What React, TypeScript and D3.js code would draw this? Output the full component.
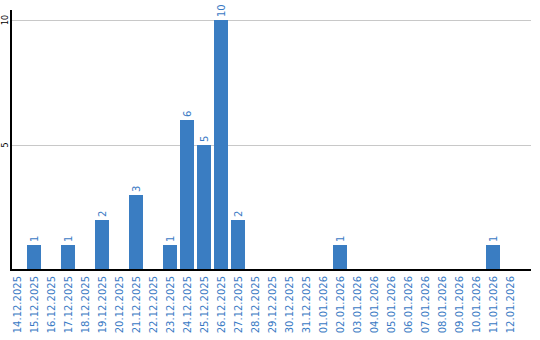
import React from "react";
import * as d3 from "d3";

const dates = [
  "14.12.2025","15.12.2025","16.12.2025","17.12.2025","18.12.2025","19.12.2025",
  "20.12.2025","21.12.2025","22.12.2025","23.12.2025","24.12.2025","25.12.2025",
  "26.12.2025","27.12.2025","28.12.2025","29.12.2025","30.12.2025","31.12.2025",
  "01.01.2026","02.01.2026","03.01.2026","04.01.2026","05.01.2026","06.01.2026",
  "07.01.2026","08.01.2026","09.01.2026","10.01.2026","11.01.2026","12.01.2026",
];
const counts = [0,1,0,1,0,2,0,3,0,1,6,5,10,2,0,0,0,0,0,1,0,0,0,0,0,0,0,0,1,0];
const yTicks = [5, 10];

const W = 540, H = 340;
const left = 10, right = 531, bottom = 270, top = 10;

export default function App() {
  const x = d3.scaleBand<string>().domain(dates).range([left, left + 17 * 30 - 3]).paddingInner(3 / 17).paddingOuter(0);
  const y = d3.scaleLinear().domain([0, 10]).range([bottom, 20]);
  const font = "DejaVu Sans, Verdana, sans-serif";
  const blue = "#3a7dc2";
  const textBlue = "#3a7ac4";
  return (
    <svg width={W} height={H} style={{ position: "absolute", left: 0, top: 0 }}>
      <rect width={W} height={H} fill="#fff" />
      {yTicks.map((t) => (
        <g key={t}>
          <line x1={left} x2={right} y1={y(t) + 0.5} y2={y(t) + 0.5} stroke="#c8c8c8" strokeWidth={1} shapeRendering="crispEdges" />
          <text
            transform={`translate(5,${y(t)}) rotate(-90)`}
            textAnchor="middle"
            dominantBaseline="central"
            fontFamily={font}
            fontSize={8}
            fill="#000"
          >
            {t}
          </text>
        </g>
      ))}
      {dates.map((d, i) =>
        counts[i] > 0 ? (
          <g key={d}>
            <rect x={x(d)} y={y(counts[i])} width={x.bandwidth()} height={bottom - y(counts[i])} fill={blue} shapeRendering="crispEdges" />
            <text
              transform={`translate(${(x(d) as number) + x.bandwidth() / 2},${y(counts[i]) - 3}) rotate(-90)`}
              textAnchor="start"
              dominantBaseline="central"
              fontFamily={font}
              fontSize={10}
              fill={textBlue}
            >
              {counts[i]}
            </text>
          </g>
        ) : null
      )}
      {dates.map((d) => (
        <text
          key={"l" + d}
          transform={`translate(${(x(d) as number) + x.bandwidth() / 2},${bottom + 6}) rotate(-90)`}
          textAnchor="end"
          dominantBaseline="central"
          fontFamily={font}
          fontSize={10}
          fill={textBlue}
        >
          {d}
        </text>
      ))}
      <line x1={left + 1} x2={left + 1} y1={top} y2={bottom} stroke="#000" strokeWidth={2} shapeRendering="crispEdges" />
      <line x1={left} x2={right} y1={bottom} y2={bottom} stroke="#000" strokeWidth={2} shapeRendering="crispEdges" />
    </svg>
  );
}
